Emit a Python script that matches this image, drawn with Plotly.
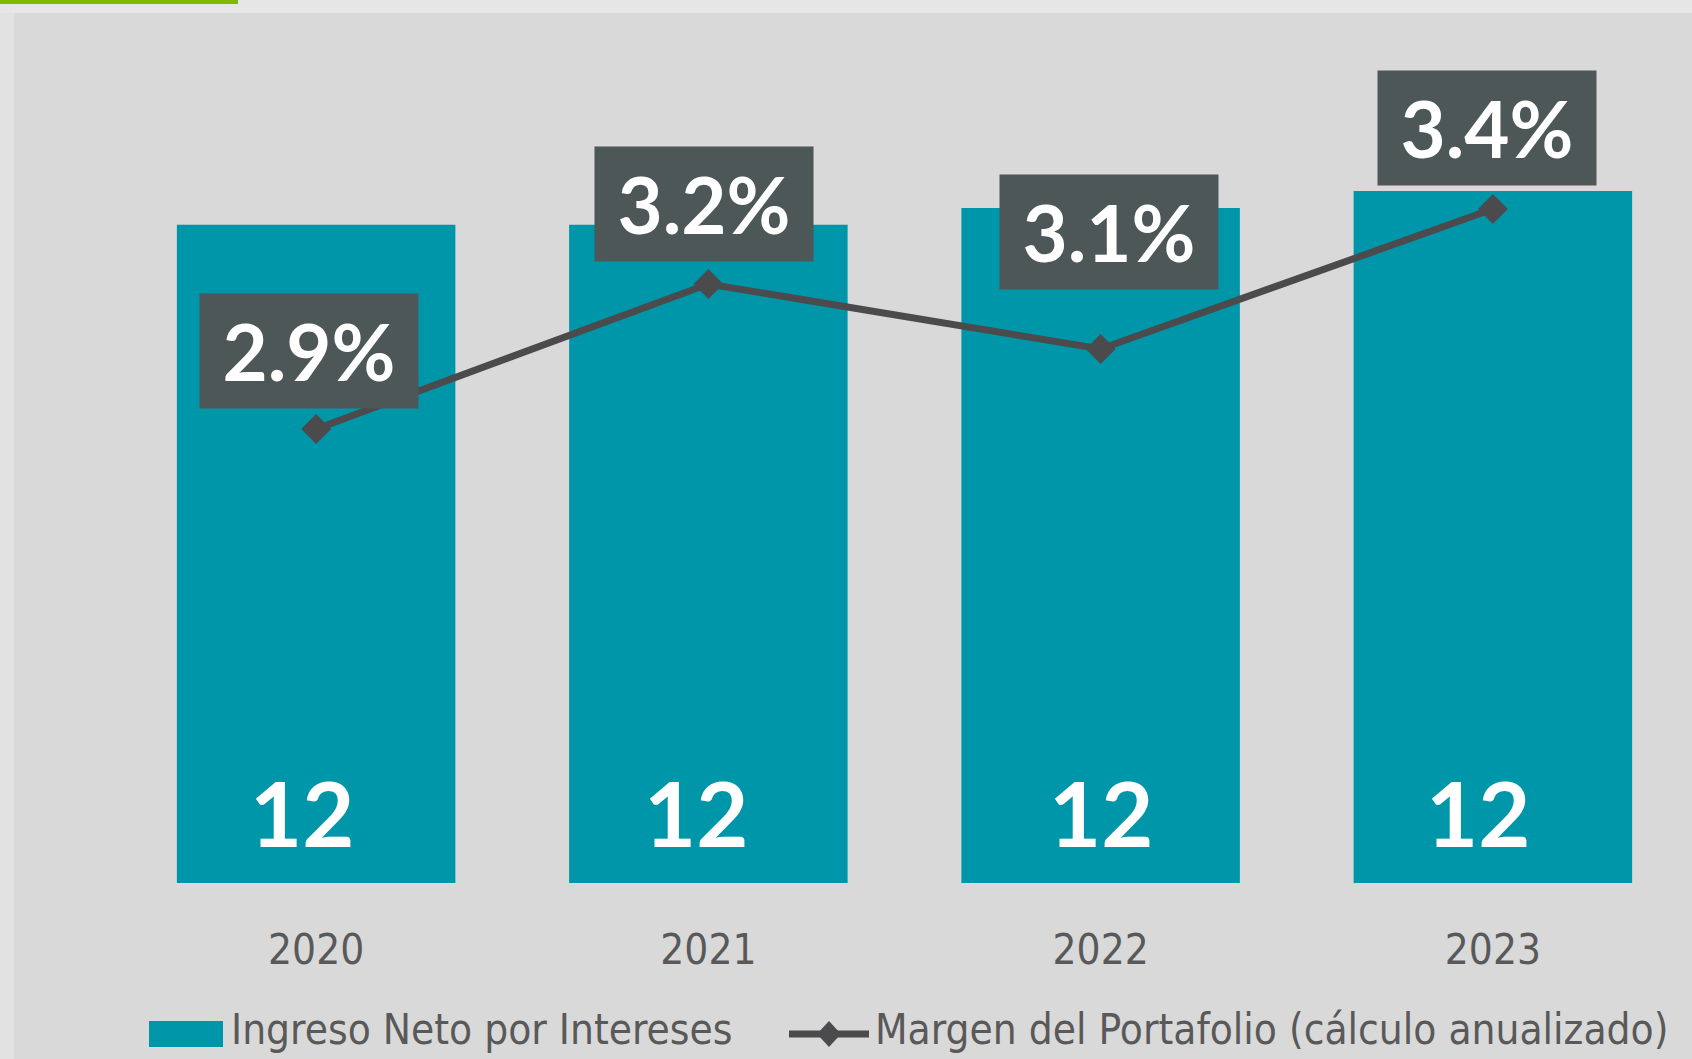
import plotly.graph_objects as go

# ---- data ----
years = ["2020", "2021", "2022", "2023"]
ingreso_neto = [11.7, 11.7, 12.0, 12.3]          # bars (shown rounded: 12)
margen_portafolio = [2.92, 3.21, 3.08, 3.36]     # line, % (shown rounded)
bar_name = "Ingreso Neto por Intereses"
line_name = "Margen del Portafolio (cálculo anualizado)"

# ---- style ----
W, H = 1692, 1059
ML, MR, MT, MB = 120, 3, 60, 176
PW, PH = W - ML - MR, H - MT - MB
TEAL = "#0096a9"
DARK = "#4d5757"
LINE = "#4b4b4d"
GREY_TXT = "#595959"
NARROW = "Liberation Sans Narrow, DejaVu Sans Condensed, Open Sans, sans-serif"
LABEL_FONT = "Lato, Open Sans, sans-serif"


def px_x(p):
    return (p - ML) / PW


def px_y(p):
    return (H - MB - p) / PH


fig = go.Figure()
fig.add_trace(go.Bar(
    x=years, y=ingreso_neto, name=bar_name, showlegend=False,
    marker=dict(color=TEAL, line=dict(width=0)),
    hoverinfo="skip",
))
fig.add_trace(go.Scatter(
    x=years, y=margen_portafolio, name=line_name, yaxis="y2", showlegend=False,
    mode="lines+markers",
    line=dict(color=LINE, width=7),
    marker=dict(symbol="diamond", size=23, color=LINE),
    hoverinfo="skip",
))

annotations = []
# bar value labels (x given as category index)
bar_xshifts = [-14, -12, 0, -15]
for i, (v, xs) in enumerate(zip(ingreso_neto, bar_xshifts)):
    annotations.append(dict(
        x=i, y=0, xref="x", yref="y", text=f"{v:.0f}", showarrow=False,
        yanchor="bottom", yshift=15, xshift=xs,
        font=dict(family=LABEL_FONT, size=90, color="white", weight=700),
    ))
# margin labels in dark boxes
yshifts = [20, 22, 59, 23]
xshifts = [-7, -4, 8, -6]
for i, (v, ys, xs) in enumerate(zip(margen_portafolio, yshifts, xshifts)):
    annotations.append(dict(
        x=i, y=v, xref="x", yref="y2", text=f"{v:.1f}%", showarrow=False,
        yanchor="bottom", yshift=ys, xshift=xs,
        width=218, height=114, borderpad=0, bgcolor=DARK,
        font=dict(family=LABEL_FONT, size=78, color="white", weight=700),
    ))

# legend (drawn below the axis)
LEG_Y = 1029
annotations.append(dict(
    x=px_x(229), y=px_y(LEG_Y), xref="paper", yref="paper", text=bar_name,
    showarrow=False, xanchor="left", yanchor="middle",
    font=dict(family=NARROW, size=42, color=GREY_TXT),
))
annotations.append(dict(
    x=px_x(873), y=px_y(LEG_Y), xref="paper", yref="paper", text=line_name,
    showarrow=False, xanchor="left", yanchor="middle",
    font=dict(family=NARROW, size=42, color=GREY_TXT),
))

dx, dy = 12 / PW, 13 / PH
cx, cy = px_x(829), px_y(1034)
shapes = [
    # lighter outer frame strips
    dict(type="rect", xref="paper", yref="paper", layer="below",
         x0=px_x(0), x1=px_x(14), y0=px_y(H), y1=px_y(0),
         fillcolor="#e2e2e2", line=dict(width=0)),
    dict(type="rect", xref="paper", yref="paper", layer="below",
         x0=px_x(0), x1=px_x(W), y0=px_y(13), y1=px_y(0),
         fillcolor="#e6e6e6", line=dict(width=0)),
    # green accent
    dict(type="rect", xref="paper", yref="paper", layer="above",
         x0=px_x(0), x1=px_x(238), y0=px_y(4), y1=px_y(0),
         fillcolor="#7fba00", line=dict(width=0)),
    # legend keys
    dict(type="rect", xref="paper", yref="paper",
         x0=px_x(149), x1=px_x(223), y0=px_y(1047), y1=px_y(1021),
         fillcolor=TEAL, line=dict(width=0)),
    dict(type="line", xref="paper", yref="paper",
         x0=px_x(789), x1=px_x(869), y0=cy, y1=cy,
         line=dict(color=LINE, width=7)),
    dict(type="path", xref="paper", yref="paper",
         path=f"M {cx - dx} {cy} L {cx} {cy + dy} L {cx + dx} {cy} L {cx} {cy - dy} Z",
         fillcolor=LINE, line=dict(width=0)),
]

fig.update_layout(
    width=W, height=H,
    margin=dict(l=ML, r=MR, t=MT, b=MB),
    paper_bgcolor="#d9d9d9", plot_bgcolor="rgba(0,0,0,0)",
    bargap=0.29,
    showlegend=False,
    xaxis=dict(
        type="category", range=[-0.5, len(years) - 0.5], autorange=False,
        showgrid=False, zeroline=False, showline=False, ticks="",
        tickfont=dict(family=NARROW, size=42, color=GREY_TXT),
        ticklabelstandoff=38,
    ),
    yaxis=dict(range=[0, PH / 56.26], autorange=False, visible=False, showgrid=False),
    yaxis2=dict(range=[2.012, 3.658], autorange=False, overlaying="y", side="right",
                visible=False, showgrid=False),
    annotations=annotations,
    shapes=shapes,
)

fig.write_html(
    "out.html",
    config={"displayModeBar": False},
    post_script="document.body.style.margin='0px';document.body.style.overflow='hidden';",
)
